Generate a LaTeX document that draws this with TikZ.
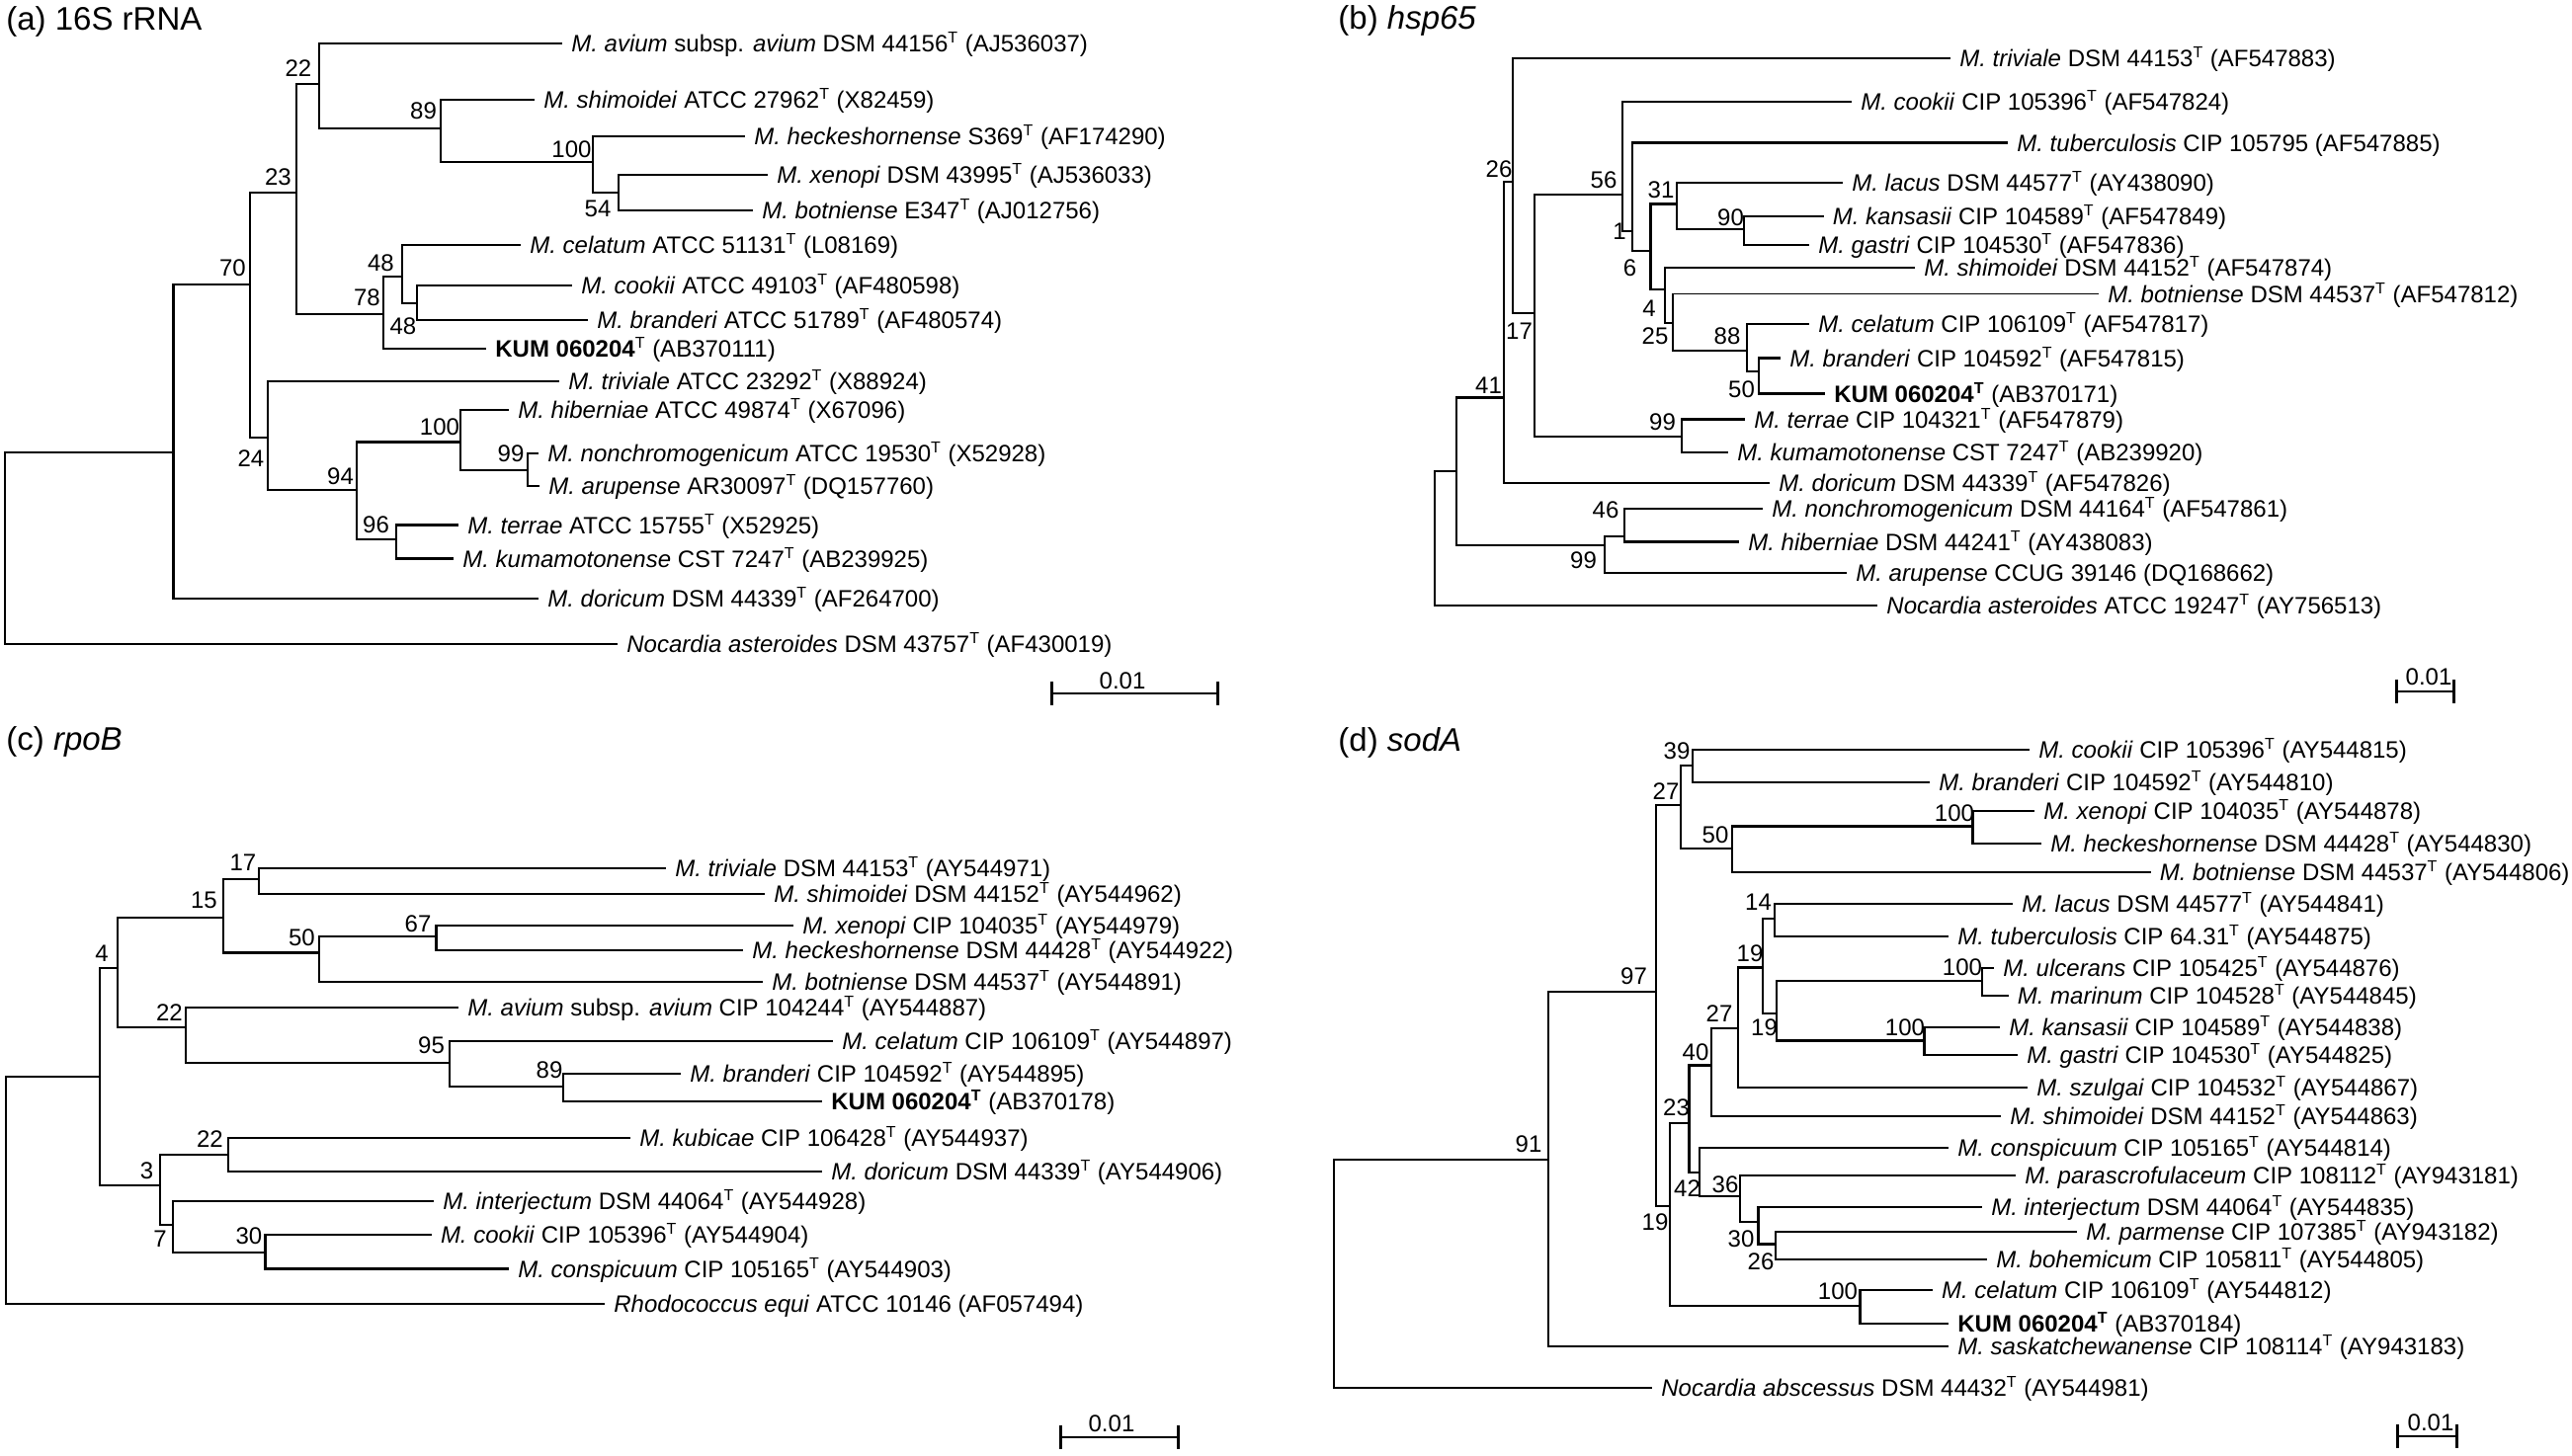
\documentclass[tikz,border=0pt]{standalone}
\usepackage{fontspec}
\setmainfont{Liberation Sans}
\usetikzlibrary{arrows.meta}
\newcommand{\tp}{\textsuperscript{T}}
\newcommand{\lblfont}{\fontsize{12}{14}\selectfont}
\newcommand{\ttlfont}{\fontsize{16.5}{19}\selectfont}
\tikzset{
  br/.style     = {line width=1.35pt},
  brt/.style    = {line width=0.65pt},
  leaf/.style   = {anchor=west, inner xsep=4.5pt, inner ysep=0pt, text height=8.6pt, text depth=0pt, font=\lblfont},
  bs/.style     = {inner sep=0pt, font=\lblfont},
  ttl/.style    = {anchor=base west, inner sep=0pt, font=\ttlfont},
  sbar/.style   = {line width=1.35pt, {Bar[width=12pt]}-{Bar[width=12pt]}},
  sbtxt/.style  = {anchor=base, inner sep=0pt, font=\lblfont},
}

\begin{document}
\begin{tikzpicture}[x=0.5pt, y=-0.5pt]
  \useasboundingbox (0,0) rectangle (2603,1473);

  % ---------------- (a) 16S rRNA ----------------
  \node[ttl] (ta) at (6,30) {(a) 16S rRNA};
  \coordinate (aR)    at (5,555);
  \coordinate (aN1)   at (175.5,458);
  \coordinate (a70)   at (253,288);
  \coordinate (a23)   at (300,195);
  \coordinate (a22)   at (323,85);
  \coordinate (a89)   at (446,130);
  \coordinate (a100)  at (600,164);
  \coordinate (a54)   at (626,195);
  \coordinate (a78)   at (388,318);
  \coordinate (a48a)  at (407,280);
  \coordinate (a48b)  at (422,307);
  \coordinate (a24)   at (271,443);
  \coordinate (a94)   at (361,496);
  \coordinate (a100b) at (466,447.5);
  \coordinate (a99)   at (534,476);
  \coordinate (a96)   at (401,546);

  \node[leaf] (aavi)  at (569,44)    {\textit{M. avium} subsp. \textit{avium} DSM 44156\tp{} (AJ536037)};
  \node[leaf] (ashi)  at (541,101)   {\textit{M. shimoidei} ATCC 27962\tp{} (X82459)};
  \node[leaf] (ahec)  at (754,138)   {\textit{M. heckeshornense} S369\tp{} (AF174290)};
  \node[leaf] (axen)  at (777,177)   {\textit{M. xenopi} DSM 43995\tp{} (AJ536033)};
  \node[leaf] (abot)  at (762,213)   {\textit{M. botniense} E347\tp{} (AJ012756)};
  \node[leaf] (acel)  at (527,248)   {\textit{M. celatum} ATCC 51131\tp{} (L08169)};
  \node[leaf] (acoo)  at (579,289)   {\textit{M. cookii} ATCC 49103\tp{} (AF480598)};
  \node[leaf] (abra)  at (595,324)   {\textit{M. branderi} ATCC 51789\tp{} (AF480574)};
  \node[leaf] (akum)  at (492,353)   {\textbf{KUM 060204}\tp{} (AB370111)};
  \node[leaf] (atri)  at (566,386)   {\textit{M. triviale} ATCC 23292\tp{} (X88924)};
  \node[leaf] (ahib)  at (515,415)   {\textit{M. hiberniae} ATCC 49874\tp{} (X67096)};
  \node[leaf] (anon)  at (545,459)   {\textit{M. nonchromogenicum} ATCC 19530\tp{} (X52928)};
  \node[leaf] (aaru)  at (546,492)   {\textit{M. arupense} AR30097\tp{} (DQ157760)};
  \node[leaf] (ater)  at (464,531.5) {\textit{M. terrae} ATCC 15755\tp{} (X52925)};
  \node[leaf] (akuma) at (459,565.5) {\textit{M. kumamotonense} CST 7247\tp{} (AB239925)};
  \node[leaf] (ador)  at (545,606)   {\textit{M. doricum} DSM 44339\tp{} (AF264700)};
  \node[leaf] (anoc)  at (625,652)   {\textit{Nocardia asteroides} DSM 43757\tp{} (AF430019)};

  \draw[br] (aR) |- (aN1) (aR) |- (anoc);
  \draw[br] (aN1) |- (a70) (aN1) |- (ador);
  \draw[br] (a70) |- (a23) (a70) |- (a24);
  \draw[br] (a23) |- (a22) (a23) |- (a78);
  \draw[br] (a22) |- (aavi) (a22) |- (a89);
  \draw[br] (a89) |- (ashi) (a89) |- (a100);
  \draw[br] (a100) |- (ahec) (a100) |- (a54);
  \draw[br] (a54) |- (axen);
  \draw[brt] (a54) |- (abot);
  \draw[br] (a78) |- (a48a) (a78) |- (akum);
  \draw[brt] (a48a) |- (acel);
  \draw[br] (a48a) |- (a48b);
  \draw[br] (a48b) |- (acoo) (a48b) |- (abra);
  \draw[br] (a24) |- (atri) (a24) |- (a94);
  \draw[br] (a94) |- (a100b) (a94) |- (a96);
  \draw[br] (a100b) |- (ahib) (a100b) |- (a99);
  \draw[br] (a99) |- (anon) (a99) |- (aaru);
  \draw[br] (a96) |- (ater) (a96) |- (akuma);

  \node[bs] (a22l)  at (302,69)    {22};
  \node[bs] (a89l)  at (428.5,112) {89};
  \node[bs] (a100l) at (578.5,151) {100};
  \node[bs] (a54l)  at (605,211)   {54};
  \node[bs] (a23l)  at (281.5,179) {23};
  \node[bs] (a48al) at (385.5,266) {48};
  \node[bs] (a78l)  at (371.5,301) {78};
  \node[bs] (a48bl) at (408,330)   {48};
  \node[bs] (a70l)  at (235.5,271) {70};
  \node[bs] (a24l)  at (254,464)   {24};
  \node[bs] (a94l)  at (344.5,482) {94};
  \node[bs] (a100bl) at (445,432)  {100};
  \node[bs] (a99l)  at (517,459)   {99};
  \node[bs] (a96l)  at (380.5,531) {96};

  \coordinate (asl) at (1063,702);
  \coordinate (asr) at (1234,702);
  \draw[sbar] (asl) -- (asr);
  \node[sbtxt] (asb) at (1136,697) {0.01};

  % ---------------- (b) hsp65 ----------------
  \node[ttl] (tb) at (1354,29) {(b) \textit{hsp65}};
  \coordinate (bR)   at (1452,545);
  \coordinate (bX)   at (1474,477);
  \coordinate (b41)  at (1522,402.5);
  \coordinate (b26)  at (1531,184);
  \coordinate (b17)  at (1553,317);
  \coordinate (b56)  at (1642,197);
  \coordinate (b1)   at (1652,234);
  \coordinate (b6)   at (1670.5,254);
  \coordinate (b31)  at (1697,206.5);
  \coordinate (b90)  at (1765,232);
  \coordinate (b4)   at (1685,293);
  \coordinate (b25)  at (1693,327);
  \coordinate (b88)  at (1768,355);
  \coordinate (b50)  at (1780,376);
  \coordinate (b99)  at (1702,442);
  \coordinate (b99c) at (1624,552);
  \coordinate (b46)  at (1644,543);

  \node[leaf] (btri)  at (1974,59)    {\textit{M. triviale} DSM 44153\tp{} (AF547883)};
  \node[leaf] (bcoo)  at (1874,103)   {\textit{M. cookii} CIP 105396\tp{} (AF547824)};
  \node[leaf] (btub)  at (2032,144.6) {\textit{M. tuberculosis} CIP 105795 (AF547885)};
  \node[leaf] (blac)  at (1865,185)   {\textit{M. lacus} DSM 44577\tp{} (AY438090)};
  \node[leaf] (bkan)  at (1845.5,219) {\textit{M. kansasii} CIP 104589\tp{} (AF547849)};
  \node[leaf] (bgas)  at (1831,248)   {\textit{M. gastri} CIP 104530\tp{} (AF547836)};
  \node[leaf] (bshi)  at (1938,271)   {\textit{M. shimoidei} DSM 44152\tp{} (AF547874)};
  \node[leaf] (bbot)  at (2124,297.5) {\textit{M. botniense} DSM 44537\tp{} (AF547812)};
  \node[leaf] (bcel)  at (1831,328)   {\textit{M. celatum} CIP 106109\tp{} (AF547817)};
  \node[leaf] (bbra)  at (1802,362.6) {\textit{M. branderi} CIP 104592\tp{} (AF547815)};
  \node[leaf] (bkum)  at (1847,398.4) {\textbf{KUM 060204\tp} (AB370171)};
  \node[leaf] (bter)  at (1766,424.5) {\textit{M. terrae} CIP 104321\tp{} (AF547879)};
  \node[leaf] (bkuma) at (1749,458)   {\textit{M. kumamotonense} CST 7247\tp{} (AB239920)};
  \node[leaf] (bdor)  at (1791,489)   {\textit{M. doricum} DSM 44339\tp{} (AF547826)};
  \node[leaf] (bnon)  at (1784,515)   {\textit{M. nonchromogenicum} DSM 44164\tp{} (AF547861)};
  \node[leaf] (bhib)  at (1760,548.5) {\textit{M. hiberniae} DSM 44241\tp{} (AY438083)};
  \node[leaf] (baru)  at (1869,580)   {\textit{M. arupense} CCUG 39146 (DQ168662)};
  \node[leaf] (bnoc)  at (1900,613)   {\textit{Nocardia asteroides} ATCC 19247\tp{} (AY756513)};

  \draw[brt] (bR) |- (bX);
  \draw[br] (bR) |- (bnoc);
  \draw[br] (bX) |- (b41) (bX) |- (b99c);
  \draw[br] (b41) |- (b26) (b41) |- (bdor);
  \draw[br] (b26) |- (btri) (b26) |- (b17);
  \draw[br] (b17) |- (b56) (b17) |- (b99);
  \draw[br] (b56) |- (bcoo) (b56) |- (b1);
  \draw[br] (b1) |- (btub) (b1) |- (b6);
  \draw[br] (b6) |- (b31) (b6) |- (b4);
  \draw[br] (b31) |- (blac) (b31) |- (b90);
  \draw[br] (b90) |- (bkan);
  \draw[brt] (b90) |- (bgas);
  \draw[br] (b4) |- (bshi) (b4) |- (b25);
  \draw[brt] (b25) |- (bbot);
  \draw[br] (b25) |- (b88);
  \draw[br] (b88) |- (bcel) (b88) |- (b50);
  \draw[br] (b50) |- (bbra) (b50) |- (bkum);
  \draw[br] (b99) |- (bter) (b99) |- (bkuma);
  \draw[br] (b99c) |- (b46) (b99c) |- (baru);
  \draw[br] (b46) |- (bnon) (b46) |- (bhib);

  \node[bs] (b41l)  at (1506.5,390)  {41};
  \node[bs] (b26l)  at (1517,171)    {26};
  \node[bs] (b17l)  at (1537.5,335)  {17};
  \node[bs] (b56l)  at (1623,182)    {56};
  \node[bs] (b1l)   at (1639,234)    {1};
  \node[bs] (b6l)   at (1649.5,271)  {6};
  \node[bs] (b31l)  at (1681,192)    {31};
  \node[bs] (b90l)  at (1751.5,220)  {90};
  \node[bs] (b4l)   at (1669,312)    {4};
  \node[bs] (b25l)  at (1675,340.5)  {25};
  \node[bs] (b88l)  at (1748,340.5)  {88};
  \node[bs] (b50l)  at (1762.5,394)  {50};
  \node[bs] (b99l)  at (1682.5,427)  {99};
  \node[bs] (b46l)  at (1625,516)    {46};
  \node[bs] (b99cl) at (1602.5,567)  {99};

  \coordinate (bsl) at (2424,700);
  \coordinate (bsr) at (2485,700);
  \draw[sbar] (bsl) -- (bsr);
  \node[sbtxt] (bsb) at (2458,693) {0.01};

  % ---------------- (c) rpoB ----------------
  \node[ttl] (tc) at (6,759) {(c) \textit{rpoB}};
  \coordinate (cR)   at (6,1205);
  \coordinate (cX)   at (101,1090);
  \coordinate (c4)   at (119,980);
  \coordinate (c15)  at (226,929);
  \coordinate (c17)  at (262,890);
  \coordinate (c50)  at (323,964.6);
  \coordinate (c67)  at (441.5,948);
  \coordinate (c22a) at (188,1040);
  \coordinate (c95)  at (455,1076);
  \coordinate (c89)  at (570,1100);
  \coordinate (c3)   at (162,1200);
  \coordinate (c22b) at (231,1169);
  \coordinate (c7)   at (175,1240);
  \coordinate (c30)  at (268.5,1268);

  \node[leaf] (ctri) at (674,879)     {\textit{M. triviale} DSM 44153\tp{} (AY544971)};
  \node[leaf] (cshi) at (774,905)     {\textit{M. shimoidei} DSM 44152\tp{} (AY544962)};
  \node[leaf] (cxen) at (803,937)     {\textit{M. xenopi} CIP 104035\tp{} (AY544979)};
  \node[leaf] (chec) at (752,962)     {\textit{M. heckeshornense} DSM 44428\tp{} (AY544922)};
  \node[leaf] (cbot) at (772,994)     {\textit{M. botniense} DSM 44537\tp{} (AY544891)};
  \node[leaf] (cavi) at (464,1020)    {\textit{M. avium} subsp. \textit{avium} CIP 104244\tp{} (AY544887)};
  \node[leaf] (ccel) at (843,1054)    {\textit{M. celatum} CIP 106109\tp{} (AY544897)};
  \node[leaf] (cbra) at (689,1087)    {\textit{M. branderi} CIP 104592\tp{} (AY544895)};
  \node[leaf] (ckum) at (832,1115)    {\textbf{KUM 060204\tp} (AB370178)};
  \node[leaf] (ckub) at (638,1152)    {\textit{M. kubicae} CIP 106428\tp{} (AY544937)};
  \node[leaf] (cdor) at (832,1186)    {\textit{M. doricum} DSM 44339\tp{} (AY544906)};
  \node[leaf] (cint) at (439,1216)    {\textit{M. interjectum} DSM 44064\tp{} (AY544928)};
  \node[leaf] (ccoo) at (436.6,1250)  {\textit{M. cookii} CIP 105396\tp{} (AY544904)};
  \node[leaf] (ccon) at (515,1284.5)  {\textit{M. conspicuum} CIP 105165\tp{} (AY544903)};
  \node[leaf] (crho) at (612,1320)    {\textit{Rhodococcus equi} ATCC 10146 (AF057494)};

  \draw[br] (cR) |- (cX) (cR) |- (crho);
  \draw[br] (cX) |- (c4) (cX) |- (c3);
  \draw[br] (c4) |- (c15) (c4) |- (c22a);
  \draw[br] (c15) |- (c17) (c15) |- (c50);
  \draw[br] (c17) |- (ctri) (c17) |- (cshi);
  \draw[br] (c50) |- (c67) (c50) |- (cbot);
  \draw[br] (c67) |- (cxen) (c67) |- (chec);
  \draw[br] (c22a) |- (cavi) (c22a) |- (c95);
  \draw[br] (c95) |- (ccel) (c95) |- (c89);
  \draw[br] (c89) |- (cbra) (c89) |- (ckum);
  \draw[br] (c3) |- (c22b) (c3) |- (c7);
  \draw[br] (c22b) |- (ckub) (c22b) |- (cdor);
  \draw[br] (c7) |- (cint) (c7) |- (c30);
  \draw[br] (c30) |- (ccoo) (c30) |- (ccon);

  \node[bs] (c4l)   at (103,965)     {4};
  \node[bs] (c15l)  at (206.5,911.5) {15};
  \node[bs] (c17l)  at (246,873.6)   {17};
  \node[bs] (c50l)  at (305.5,949)   {50};
  \node[bs] (c67l)  at (423,935)     {67};
  \node[bs] (c22al) at (171.5,1025)  {22};
  \node[bs] (c95l)  at (436.5,1058)  {95};
  \node[bs] (c89l)  at (556,1083)    {89};
  \node[bs] (c3l)   at (148.5,1185)  {3};
  \node[bs] (c22bl) at (212.5,1153)  {22};
  \node[bs] (c7l)   at (162,1254)    {7};
  \node[bs] (c30l)  at (252,1251)    {30};

  \coordinate (csl) at (1072,1455);
  \coordinate (csr) at (1194,1455);
  \draw[sbar] (csl) -- (csr);
  \node[sbtxt] (csb) at (1125,1449) {0.01};

  % ---------------- (d) sodA ----------------
  \node[ttl] (td) at (1354,760) {(d) \textit{sodA}};
  \coordinate (dR)    at (1350,1290);
  \coordinate (d91)   at (1567,1174);
  \coordinate (d97)   at (1676,1004);
  \coordinate (d27a)  at (1701,815);
  \coordinate (d39)   at (1713,775);
  \coordinate (d50)   at (1753,859);
  \coordinate (d100a) at (1996.5,836.6);
  \coordinate (d19)   at (1690,1221);
  \coordinate (d23)   at (1709.5,1137);
  \coordinate (d40)   at (1732,1078.6);
  \coordinate (d27b)  at (1759,1041);
  \coordinate (d19b)  at (1784,979.5);
  \coordinate (d14)   at (1796,930);
  \coordinate (d19c)  at (1798,1026);
  \coordinate (d100b) at (2006,993);
  \coordinate (d100c) at (1947.5,1053.5);
  \coordinate (d42)   at (1720,1187);
  \coordinate (d36)   at (1761,1211);
  \coordinate (d30)   at (1779.5,1237);
  \coordinate (d26)   at (1797,1259.6);
  \coordinate (d100d) at (1882.5,1322);

  \node[leaf] (dcoo) at (2054,759)    {\textit{M. cookii} CIP 105396\tp{} (AY544815)};
  \node[leaf] (dbra) at (1953,792)    {\textit{M. branderi} CIP 104592\tp{} (AY544810)};
  \node[leaf] (dxen) at (2059,821)    {\textit{M. xenopi} CIP 104035\tp{} (AY544878)};
  \node[leaf] (dhec) at (2066,854)    {\textit{M. heckeshornense} DSM 44428\tp{} (AY544830)};
  \node[leaf] (dbot) at (2176.5,883)  {\textit{M. botniense} DSM 44537\tp{} (AY544806)};
  \node[leaf] (dlac) at (2037,915)    {\textit{M. lacus} DSM 44577\tp{} (AY544841)};
  \node[leaf] (dtub) at (1972,948)    {\textit{M. tuberculosis} CIP 64.31\tp{} (AY544875)};
  \node[leaf] (dulc) at (2018,980)    {\textit{M. ulcerans} CIP 105425\tp{} (AY544876)};
  \node[leaf] (dmar) at (2032.5,1008) {\textit{M. marinum} CIP 104528\tp{} (AY544845)};
  \node[leaf] (dkan) at (2024,1040)   {\textit{M. kansasii} CIP 104589\tp{} (AY544838)};
  \node[leaf] (dgas) at (2042,1068)   {\textit{M. gastri} CIP 104530\tp{} (AY544825)};
  \node[leaf] (dszu) at (2052,1101)   {\textit{M. szulgai} CIP 104532\tp{} (AY544867)};
  \node[leaf] (dshi) at (2025,1130)   {\textit{M. shimoidei} DSM 44152\tp{} (AY544863)};
  \node[leaf] (dcon) at (1972,1162)   {\textit{M. conspicuum} CIP 105165\tp{} (AY544814)};
  \node[leaf] (dpas) at (2040,1190)   {\textit{M. parascrofulaceum} CIP 108112\tp{} (AY943181)};
  \node[leaf] (dint) at (2006,1222)   {\textit{M. interjectum} DSM 44064\tp{} (AY544835)};
  \node[leaf] (dpar) at (2102,1247)   {\textit{M. parmense} CIP 107385\tp{} (AY943182)};
  \node[leaf] (dboh) at (2011,1275)   {\textit{M. bohemicum} CIP 105811\tp{} (AY544805)};
  \node[leaf] (dcel) at (1955.6,1306) {\textit{M. celatum} CIP 106109\tp{} (AY544812)};
  \node[leaf] (dkum) at (1972,1340)   {\textbf{KUM 060204\tp} (AB370184)};
  \node[leaf] (dsas) at (1972,1363)   {\textit{M. saskatchewanense} CIP 108114\tp{} (AY943183)};
  \node[leaf] (dnoc) at (1672,1405)   {\textit{Nocardia abscessus} DSM 44432\tp{} (AY544981)};

  \draw[br] (dR) |- (d91) (dR) |- (dnoc);
  \draw[br] (d91) |- (d97) (d91) |- (dsas);
  \draw[br] (d97) |- (d27a) (d97) |- (d19);
  \draw[br] (d27a) |- (d39) (d27a) |- (d50);
  \draw[br] (d39) |- (dcoo) (d39) |- (dbra);
  \draw[br] (d50) |- (d100a) (d50) |- (dbot);
  \draw[br] (d100a) |- (dxen) (d100a) |- (dhec);
  \draw[br] (d19) |- (d23) (d19) |- (d100d);
  \draw[br] (d23) |- (d40) (d23) |- (d42);
  \draw[br] (d40) |- (d27b) (d40) |- (dshi);
  \draw[br] (d27b) |- (d19b) (d27b) |- (dszu);
  \draw[br] (d19b) |- (d14) (d19b) |- (d19c);
  \draw[br] (d14) |- (dlac) (d14) |- (dtub);
  \draw[br] (d19c) |- (d100b) (d19c) |- (d100c);
  \draw[br] (d100b) |- (dulc) (d100b) |- (dmar);
  \draw[br] (d100c) |- (dkan) (d100c) |- (dgas);
  \draw[br] (d42) |- (dcon) (d42) |- (d36);
  \draw[br] (d36) |- (dpas) (d36) |- (d30);
  \draw[br] (d30) |- (dint) (d30) |- (d26);
  \draw[br] (d26) |- (dpar) (d26) |- (dboh);
  \draw[br] (d100d) |- (dcel) (d100d) |- (dkum);

  \node[bs] (d91l)   at (1547,1158.5) {91};
  \node[bs] (d97l)   at (1653.5,988)  {97};
  \node[bs] (d27al)  at (1686,801)    {27};
  \node[bs] (d39l)   at (1697,760)    {39};
  \node[bs] (d50l)   at (1736,845)    {50};
  \node[bs] (d100al) at (1978,823)    {100};
  \node[bs] (d19l)   at (1675,1237)   {19};
  \node[bs] (d23l)   at (1696.5,1121.5) {23};
  \node[bs] (d40l)   at (1716,1065)   {40};
  \node[bs] (d27bl)  at (1740,1026)   {27};
  \node[bs] (d19bl)  at (1771,965)    {19};
  \node[bs] (d14l)   at (1779.5,913)  {14};
  \node[bs] (d19cl)  at (1785.5,1040) {19};
  \node[bs] (d100bl) at (1986,979.5)  {100};
  \node[bs] (d100cl) at (1928,1040)   {100};
  \node[bs] (d42l)   at (1707.5,1203) {42};
  \node[bs] (d36l)   at (1746,1199)   {36};
  \node[bs] (d30l)   at (1762,1254.6) {30};
  \node[bs] (d26l)   at (1782,1277)   {26};
  \node[bs] (d100dl) at (1860,1307)   {100};

  \coordinate (dsl) at (2425,1454);
  \coordinate (dsr) at (2488,1454);
  \draw[sbar] (dsl) -- (dsr);
  \node[sbtxt] (dsb) at (2460,1448) {0.01};
\end{tikzpicture}
\end{document}
